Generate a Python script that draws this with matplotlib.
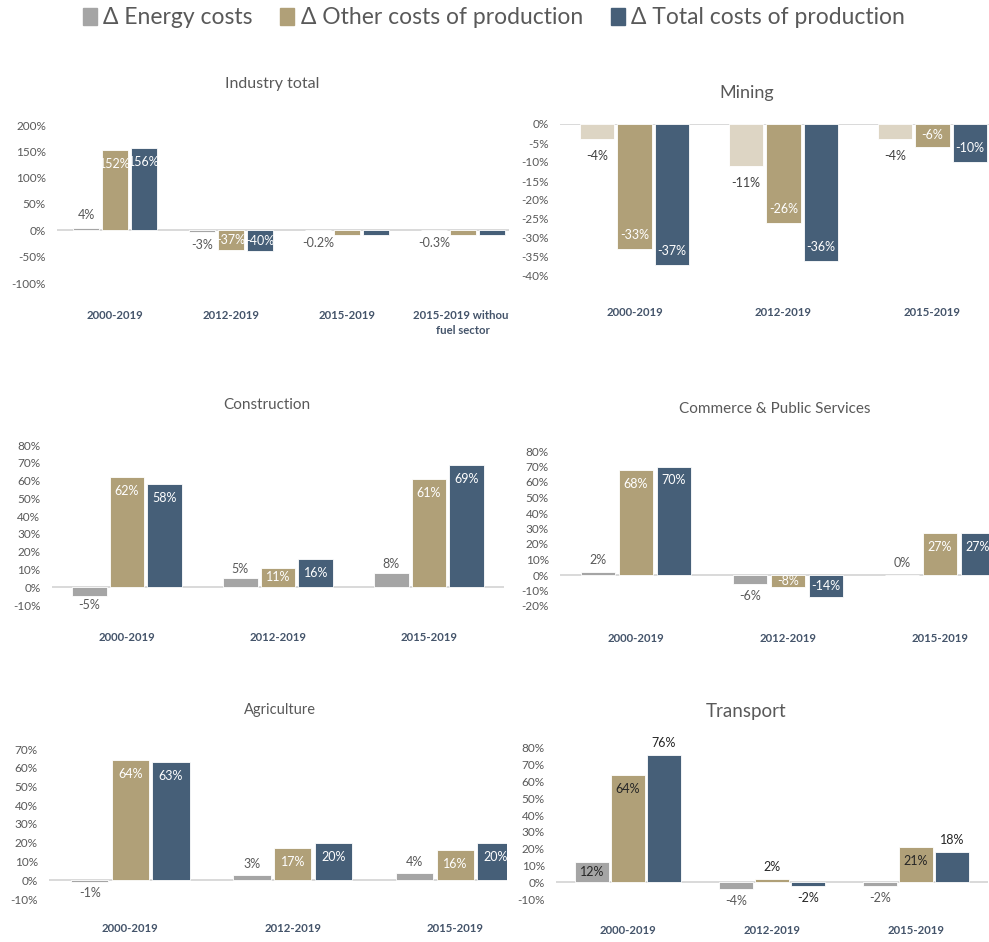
import matplotlib
matplotlib.use("Agg")
import matplotlib.pyplot as plt
from matplotlib.patches import Patch
from matplotlib.transforms import Bbox, TransformedBbox, blended_transform_factory
import numpy as np

plt.rcParams['font.family'] = ['Lato', 'DejaVu Sans']

W, H = 989, 942

series_names = ['Δ Energy costs', 'Δ Other costs of production', 'Δ Total costs of production']

# --- data (percent change) ---
industry_cats = ['2000-2019', '2012-2019', '2015-2019', '2015-2019 without\nfuel sector']
industry_energy = [4, -3, -0.2, -0.3]
industry_other = [152, -37, -8, -9]
industry_total = [156, -40, -8, -9]

mining_cats = ['2000-2019', '2012-2019', '2015-2019']
mining_energy = [-4, -11, -4]
mining_other = [-33, -26, -6]
mining_total = [-37, -36, -10]

construction_cats = ['2000-2019', '2012-2019', '2015-2019']
construction_energy = [-5, 5, 8]
construction_other = [62, 11, 61]
construction_total = [58, 16, 69]

commerce_cats = ['2000-2019', '2012-2019', '2015-2019']
commerce_energy = [2, -6, 0]
commerce_other = [68, -8, 27]
commerce_total = [70, -14, 27]

agriculture_cats = ['2000-2019', '2012-2019', '2015-2019']
agriculture_energy = [-1, 3, 4]
agriculture_other = [64, 17, 16]
agriculture_total = [63, 20, 20]

transport_cats = ['2000-2019', '2012-2019', '2015-2019']
transport_energy = [12, -4, -2]
transport_other = [64, 2, 21]
transport_total = [76, -2, 18]

# --- styling / layout (pixels of the 989x942 canvas) ---
GRAY, TAN, BLUE, BEIGE = '#A5A5A5', '#B0A078', '#465F78', '#DDD5C4'
TXT = '#595959'
CAT = '#44546A'

panels = [
    dict(title='Industry total', tx=272, ty=84, ts=11.5,
         cats=industry_cats, vals=[industry_energy, industry_other, industry_total],
         left=57, right=509, step=116, ylim=(-100, 200), ypx=(283, 125), tick=50,
         caty=310, colors=[GRAY, TAN, BLUE], out=13,
         modes=[['out'] * 4, ['in', 'in', '', ''], ['in', 'in', '', '']],
         incol='white', outcol=[TXT, TXT, TXT]),
    dict(title='Mining', tx=747, ty=93, ts=13,
         cats=mining_cats, vals=[mining_energy, mining_other, mining_total],
         left=560, right=989, step=149, ylim=(-40, 0), ypx=(276, 124), tick=5,
         caty=307, colors=[BEIGE, TAN, BLUE], out=17,
         modes=[['out'] * 3, ['in'] * 3, ['in'] * 3],
         incol='white', outcol=['#404040', TXT, TXT]),
    dict(title='Construction', tx=267, ty=405, ts=11,
         cats=construction_cats, vals=[construction_energy, construction_other, construction_total],
         left=51.5, right=504.5, step=151, ylim=(-10, 80), ypx=(605, 445), tick=10,
         caty=632, colors=[GRAY, TAN, BLUE], out=9,
         modes=[['out'] * 3, ['in'] * 3, ['in'] * 3],
         incol='white', outcol=[TXT, TXT, TXT]),
    dict(title='Commerce & Public Services', tx=775, ty=409, ts=11,
         cats=commerce_cats, vals=[commerce_energy, commerce_other, commerce_total],
         left=560, right=989, step=152, ylim=(-20, 80), ypx=(606, 451), tick=10,
         caty=633, colors=[GRAY, TAN, BLUE], out=12,
         modes=[['out'] * 3, ['in'] * 3, ['in'] * 3],
         incol='white', outcol=[TXT, TXT, TXT]),
    dict(title='Agriculture', tx=280, ty=710, ts=10.5,
         cats=agriculture_cats, vals=[agriculture_energy, agriculture_other, agriculture_total],
         left=49, right=507, step=162.5, ylim=(-10, 70), ypx=(899, 749), tick=10,
         caty=923, colors=[GRAY, TAN, BLUE], out=11,
         modes=[['out'] * 3, ['in'] * 3, ['in'] * 3],
         incol='white', outcol=[TXT, TXT, TXT]),
    dict(title='Transport', tx=746, ty=712, ts=13.5,
         cats=transport_cats, vals=[transport_energy, transport_other, transport_total],
         left=556, right=988, step=144, ylim=(-10, 80), ypx=(899, 748), tick=10,
         caty=925, colors=[GRAY, TAN, BLUE], out=12,
         modes=[['in', 'out', 'out'], ['in', 'out', 'in'], ['out'] * 3],
         incol='#262626', outcol=[TXT, '#262626', '#262626']),
]


def fmt(v):
    if v != 0 and abs(v) < 1:
        return f'{v:.1f}%'
    return f'{v:.0f}%'


fig = plt.figure(figsize=(W / 100, H / 100), dpi=100)

for p in panels:
    bottom_px, top_px = p['ypx']
    ax = fig.add_axes([p['left'] / W, 1 - bottom_px / H,
                       (p['right'] - p['left']) / W, (bottom_px - top_px) / H])
    ax.set_xlim(-0.5, -0.5 + (p['right'] - p['left']) / p['step'])
    ax.set_ylim(*p['ylim'])
    for s in ax.spines.values():
        s.set_visible(False)
    ax.patch.set_alpha(0)
    ax.axhline(0, color='#D9D9D9', lw=1.4, zorder=1)

    ticks = np.arange(p['ylim'][0], p['ylim'][1] + 0.1, p['tick'])
    ax.set_yticks(ticks)
    ax.set_yticklabels([f'{int(t)}%' for t in ticks])
    ax.tick_params(axis='y', length=0, pad=8, labelsize=8.5, labelcolor=TXT)
    ax.set_xticks([])

    clip = TransformedBbox(Bbox.from_extents(p['left'] / W - 0.06, 0, p['right'] / W, 1),
                           fig.transFigure)
    pxu = (bottom_px - top_px) / (p['ylim'][1] - p['ylim'][0])
    x = np.arange(len(p['cats']))
    for k, (vals, col) in enumerate(zip(p['vals'], p['colors'])):
        xs = x + (k - 1) * 0.25
        ax.bar(xs, vals, width=0.23, color=col, edgecolor='white', linewidth=0.6, zorder=2)
        for xi, v, m in zip(xs, vals, p['modes'][k]):
            if not m:
                continue
            sgn = 1 if v >= 0 else -1
            if m == 'out':
                dy = sgn * p['out']
                c = p['outcol'][k]
            else:
                dy = -sgn * min(14, abs(v) * pxu / 2)
                c = p['incol']
            t = ax.annotate(fmt(v), (xi, v), xytext=(0, dy), textcoords='offset pixels',
                            ha='center', va='center', fontsize=9, color=c, zorder=3)
            t.set_clip_on(True)
            t.set_clip_path(None)
            t.set_clip_box(clip)

    tr = blended_transform_factory(ax.transData, fig.transFigure)
    for xi, lab in zip(x, p['cats']):
        t = ax.text(xi, 1 - p['caty'] / H, lab, transform=tr, ha='center', va='top',
                    fontsize=8.2, fontweight='bold', color=CAT, linespacing=1.4)
        t.set_clip_on(True)
        t.set_clip_path(None)
        t.set_clip_box(clip)

    fig.text(p['tx'] / W, 1 - p['ty'] / H, p['title'], ha='center', va='center',
             fontsize=p['ts'], color=TXT)

handles = [Patch(color=c) for c in (GRAY, TAN, BLUE)]
fig.legend(handles, series_names, loc='center', bbox_to_anchor=(494 / W, 1 - 18 / H),
           ncol=3, frameon=False, fontsize=16.5, handlelength=0.6, handleheight=0.7,
           handletextpad=0.3, columnspacing=1.2, labelcolor=TXT)

fig.savefig('out.png', dpi=100)
